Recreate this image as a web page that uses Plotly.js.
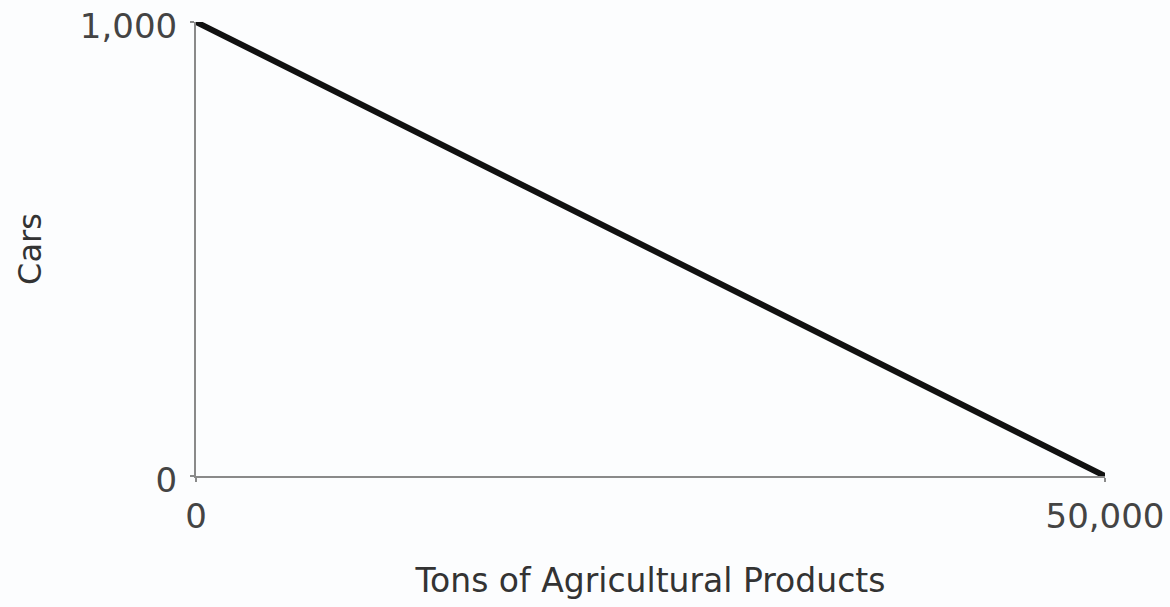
<!DOCTYPE html>
<html>
<head>
<meta charset="utf-8">
<script src="https://cdn.plot.ly/plotly-3.0.1.min.js"></script>
<style>html,body{margin:0;padding:0;background:#fcfdfe;}</style>
</head>
<body>
<div id="chart" style="width:1170px;height:607px;"></div>
<script>
const tons = [0, 50000];
const cars = [1000, 0];
const xTickVals = [0, 50000];
const xTickText = ["0", "50,000"];
const yTickVals = [0, 1000];
const yTickText = ["0", "1,000"];

const trace = {
  x: tons, y: cars, type: 'scatter', mode: 'lines',
  line: {color: '#111111', width: 6}, cliponaxis: false, hoverinfo: 'skip'
};
const font = {family: 'DejaVu Sans, sans-serif', color: '#444444'};
const layout = {
  width: 1170, height: 607,
  margin: {l: 196, r: 65, t: 22, b: 131},
  paper_bgcolor: '#fcfdfe', plot_bgcolor: '#fcfdfe',
  showlegend: false,
  font: font,
  xaxis: {
    range: [0, 50000], tickvals: xTickVals, ticktext: xTickText,
    showgrid: false, zeroline: false, showline: true, linecolor: '#8a8a8a', linewidth: 2,
    ticks: 'outside', ticklen: 4, tickcolor: '#8a8a8a', tickwidth: 2,
    ticklabelstandoff: 5, ticklabeloverflow: 'allow',
    tickfont: {size: 34, color: '#444444', family: font.family},
    title: {text: 'Tons of Agricultural Products', font: {size: 33, color: '#333333', family: font.family}, standoff: 34}
  },
  yaxis: {
    range: [0, 1000], tickvals: yTickVals, ticktext: yTickText,
    showgrid: false, zeroline: false, showline: true, linecolor: '#8a8a8a', linewidth: 2,
    ticks: 'outside', ticklen: 4, tickcolor: '#8a8a8a', tickwidth: 2,
    ticklabelstandoff: 6, ticklabelshift: 4, ticklabeloverflow: 'allow',
    tickfont: {size: 34, color: '#444444', family: font.family},
    title: {text: 'Cars', font: {size: 32, color: '#333333', family: font.family}, standoff: 29}
  }
};
Plotly.newPlot('chart', [trace], layout, {staticPlot: true});
</script>
</body>
</html>
